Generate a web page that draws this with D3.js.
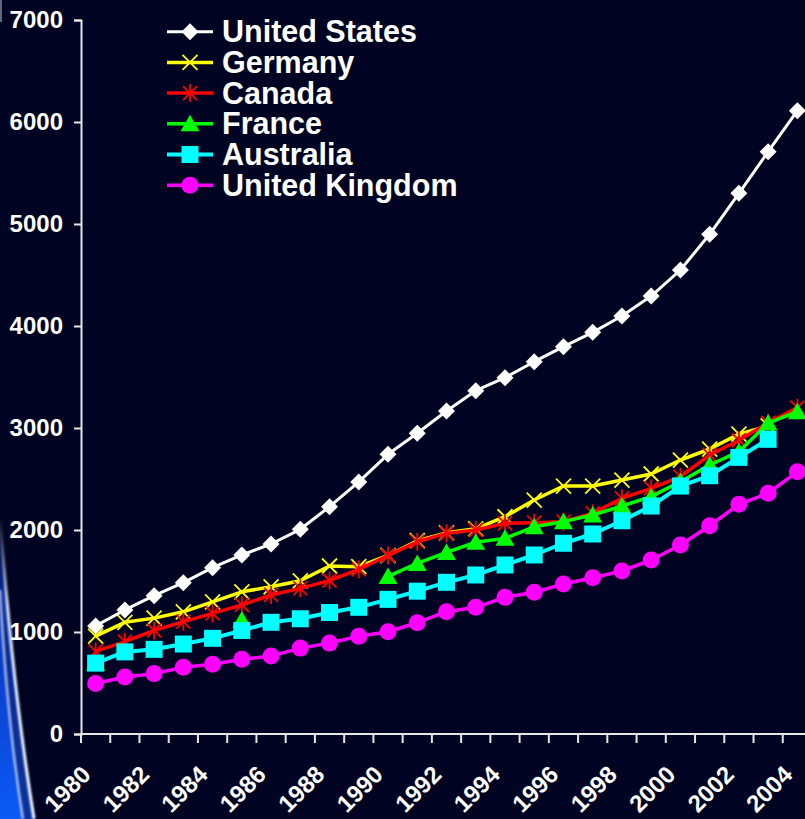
<!DOCTYPE html>
<html>
<head>
<meta charset="utf-8">
<script src="https://cdn.jsdelivr.net/npm/d3@7/dist/d3.min.js"></script>
<style>
  html, body { margin: 0; padding: 0; background: #000321; }
  svg { display: block; }
  text { font-family: "Liberation Sans", Arial, sans-serif; font-weight: bold; fill: #ffffff; }
</style>
</head>
<body>
<div id="chart"></div>
<script>
// Years on the category axis
const years = [1980, 1981, 1982, 1983, 1984, 1985, 1986, 1987, 1988, 1989, 1990, 1991, 1992,
               1993, 1994, 1995, 1996, 1997, 1998, 1999, 2000, 2001, 2002, 2003, 2004];

// Series values (null = no data for that year)
const unitedStates = [1060, 1216, 1356, 1484, 1631, 1755, 1863, 2007, 2229, 2471, 2742, 2948, 3167,
                      3366, 3493, 3650, 3797, 3938, 4098, 4294, 4549, 4899, 5301, 5709, 6111];
const germany      = [960, 1095, 1136, 1198, 1296, 1394, 1443, 1502, 1647, 1640, 1750, 1895, 1972,
                      2012, 2130, 2294, 2431, 2431, 2490, 2549, 2686, 2794, 2940, 3020, null];
const canada       = [810, 905, 1015, 1101, 1183, 1265, 1363, 1428, 1505, 1614, 1750, 1885, 1967,
                      2000, 2065, 2072, 2082, 2164, 2311, 2409, 2523, 2735, 2880, 3050, 3200];
const france       = [690, null, null, null, null, 1118, null, null, null, null, 1545, 1672, 1780,
                      1880, 1918, 2031, 2082, 2147, 2235, 2327, 2474, 2637, 2768, 3048, 3160];
const australia    = [695, 805, 830, 882, 938, 1015, 1095, 1130, 1191, 1242, 1320, 1400, 1487,
                      1559, 1657, 1755, 1870, 1961, 2091, 2235, 2431, 2532, 2712, 2889, null];
const unitedKingdom = [495, 558, 592, 655, 683, 733, 764, 842, 891, 958, 1002, 1091, 1199,
                       1242, 1340, 1389, 1471, 1532, 1598, 1706, 1853, 2042, 2252, 2360, 2572];

const seriesNames  = ["United States", "Germany", "Canada", "France", "Australia", "United Kingdom"];
const seriesValues = [unitedStates, germany, canada, france, australia, unitedKingdom];

// Axis tick labels
const yTicks = [0, 1000, 2000, 3000, 4000, 5000, 6000, 7000];
const xTickLabels = ["1980", "1982", "1984", "1986", "1988", "1990", "1992",
                     "1994", "1996", "1998", "2000", "2002", "2004"];

// Styling per series
const styles = [
  { color: "#ffffff", marker: "diamond",  width: 3 },
  { color: "#ffff00", marker: "cross",    width: 3.5 },
  { color: "#ff0000", marker: "asterisk", width: 3.5 },
  { color: "#00ff00", marker: "triangle", width: 3.5 },
  { color: "#00ffff", marker: "square",   width: 4 },
  { color: "#ff00ff", marker: "circle",   width: 3.5 }
];

const W = 805, H = 819;
const svg = d3.select("#chart").append("svg")
  .attr("width", W).attr("height", H)
  .style("background", "#000321");

const defs = svg.append("defs");
const grad = defs.append("linearGradient").attr("id", "swooshFill")
  .attr("x1", 0).attr("y1", 0).attr("x2", 0).attr("y2", 1);
grad.append("stop").attr("offset", "0").attr("stop-color", "#0a2a9a").attr("stop-opacity", 0);
grad.append("stop").attr("offset", "0.3").attr("stop-color", "#0a34b6").attr("stop-opacity", 1);
grad.append("stop").attr("offset", "1").attr("stop-color", "#0b5af6").attr("stop-opacity", 1);
const lineGrad = defs.append("linearGradient").attr("id", "swooshLine")
  .attr("x1", 0).attr("y1", 0).attr("x2", 0).attr("y2", 1);
lineGrad.append("stop").attr("offset", "0").attr("stop-color", "#ffffff").attr("stop-opacity", 0);
lineGrad.append("stop").attr("offset", "0.3").attr("stop-color", "#ffffff").attr("stop-opacity", 0.9);
lineGrad.append("stop").attr("offset", "1").attr("stop-color", "#ffffff").attr("stop-opacity", 1);
defs.append("filter").attr("id", "soft")
  .append("feGaussianBlur").attr("stdDeviation", 0.9);

// Decorative blue sweep at the lower left edge of the slide
const deco = svg.append("g");
deco.append("path")
  .attr("d", "M0,515 Q13,690 35,819 L0,819 Z")
  .attr("fill", "url(#swooshFill)");
deco.append("path")
  .attr("d", "M0,600 Q7,720 23,819 L35,819 Q13,690 3,600 Z")
  .attr("fill", "#0a2680").attr("opacity", 0.75);
deco.append("path")
  .attr("d", "M0,517 Q13,690 34,819")
  .attr("fill", "none").attr("stroke", "url(#swooshLine)").attr("stroke-width", 3)
  .attr("filter", "url(#soft)");
deco.append("path")
  .attr("d", "M0,590 Q7,720 23,819")
  .attr("fill", "none").attr("stroke", "#dfe6ff").attr("stroke-width", 2.2)
  .attr("opacity", 0.85).attr("filter", "url(#soft)");
deco.append("rect").attr("x", 0).attr("y", 0).attr("width", 2).attr("height", 22)
  .attr("fill", "#8a90a8").attr("opacity", 0.7);

// Scales
const x = d3.scaleBand().domain(years).range([81, 812]).padding(0);
const y = d3.scaleLinear().domain([0, 7000]).range([734, 20]);
const bw = x.bandwidth();
const cx = yr => x(yr) + bw / 2;

// Y axis
const yAxis = svg.append("g").attr("transform", "translate(81,0)")
  .call(d3.axisLeft(y).tickValues(yTicks).tickSize(7).tickPadding(11).tickFormat(d3.format("d")));
yAxis.select(".domain").attr("stroke", "#e6e6e6").attr("stroke-width", 2);
yAxis.selectAll(".tick line").attr("stroke", "#e6e6e6").attr("stroke-width", 2);
yAxis.selectAll(".tick text")
  .attr("fill", "#ffffff").attr("font-size", 24)
  .attr("font-family", "'Liberation Sans', Arial, sans-serif").attr("font-weight", "bold");

// X axis: ticks on category boundaries, labels rotated
const xAxis = svg.append("g");
xAxis.append("line")
  .attr("x1", 80).attr("x2", x.range()[1]).attr("y1", y(0)).attr("y2", y(0))
  .attr("stroke", "#e6e6e6").attr("stroke-width", 2);
const boundaries = years.map(yr => x(yr)).concat([x.range()[1]]);
xAxis.selectAll("line.tk").data(boundaries).join("line").attr("class", "tk")
  .attr("x1", d => d).attr("x2", d => d)
  .attr("y1", y(0)).attr("y2", y(0) + 9)
  .attr("stroke", "#e6e6e6").attr("stroke-width", 2);
xAxis.selectAll("text").data(xTickLabels).join("text")
  .attr("transform", d => `translate(${cx(+d) - 3.5},776) rotate(-45)`)
  .attr("text-anchor", "end")
  .attr("font-size", 24)
  .text(d => d);

// Marker shapes
function markerPath(kind) {
  switch (kind) {
    case "diamond":  return "M0,-8.5L8.5,0L0,8.5L-8.5,0Z";
    case "square":   return "M-8.5,-8.5H8.5V8.5H-8.5Z";
    case "triangle": return "M0,-9L9.5,7.5L-9.5,7.5Z";
    case "circle":   return d3.symbol(d3.symbolCircle, Math.PI * 8.5 * 8.5)();
    case "cross":    return "M-7.5,-7.5L7.5,7.5M7.5,-7.5L-7.5,7.5";
    case "asterisk": return "M-7,-7L7,7M7,-7L-7,7M0,-9L0,9";
  }
}
function drawMarker(sel, st) {
  const stroked = st.marker === "cross" || st.marker === "asterisk";
  sel.attr("d", markerPath(st.marker))
    .attr("fill", stroked ? "none" : st.color)
    .attr("stroke", stroked ? st.color : "none")
    .attr("stroke-width", stroked ? 1.8 : 0);
}

// Series lines and markers
const line = d3.line()
  .defined(d => d.v != null)
  .x(d => cx(d.year))
  .y(d => y(d.v));

seriesValues.forEach((vals, i) => {
  const st = styles[i];
  const pts = years.map((yr, j) => ({ year: yr, v: vals[j] }));
  const g = svg.append("g").attr("class", "series");
  g.append("path").datum(pts)
    .attr("d", line)
    .attr("fill", "none")
    .attr("stroke", st.color)
    .attr("stroke-width", st.width)
    .attr("stroke-linejoin", "round");
  g.selectAll("path.mk").data(pts.filter(d => d.v != null)).join("path")
    .attr("class", "mk")
    .attr("transform", d => `translate(${cx(d.year)},${y(d.v)})`)
    .call(drawMarker, st);
});

// Legend
const legend = svg.append("g");
seriesNames.forEach((name, i) => {
  const st = styles[i];
  const ry = 31.7 + i * 30.7;
  legend.append("line")
    .attr("x1", 167).attr("x2", 213).attr("y1", ry).attr("y2", ry)
    .attr("stroke", st.color).attr("stroke-width", st.width);
  legend.append("path")
    .attr("transform", `translate(190,${ry})`)
    .call(drawMarker, st);
  legend.append("text")
    .attr("x", 222).attr("y", ry + 10.5)
    .attr("font-size", 30.5)
    .text(name);
});
</script>
</body>
</html>
